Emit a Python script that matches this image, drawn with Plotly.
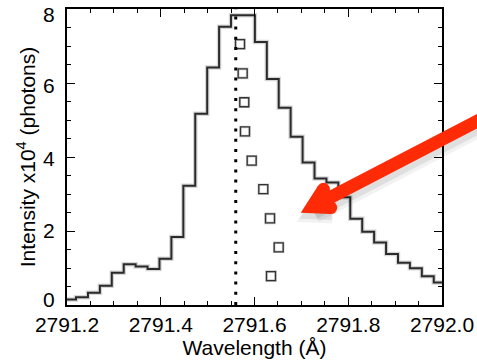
import numpy as np
import plotly.graph_objects as go

# Mg II k line profile (wavelength bin centres in Angstrom, intensity in 1e4 photons)
bin_centers = [2791.2065, 2791.2319, 2791.2574, 2791.2828, 2791.3082, 2791.3337,
               2791.3591, 2791.3846, 2791.4100, 2791.4354, 2791.4609, 2791.4863,
               2791.5118, 2791.5372, 2791.5626, 2791.5881, 2791.6135, 2791.6390,
               2791.6644, 2791.6898, 2791.7153, 2791.7407, 2791.7662, 2791.7916,
               2791.8170, 2791.8425, 2791.8679, 2791.8934, 2791.9188, 2791.9442,
               2791.9697, 2791.9951]
intensity = [0.15, 0.21, 0.33, 0.52, 0.87, 1.10, 1.04, 0.97, 1.25, 1.84, 3.22,
             5.17, 6.42, 7.52, 7.83, 7.83, 7.11, 6.11, 5.33, 4.55, 3.85, 3.42,
             3.31, 2.91, 2.33, 1.98, 1.69, 1.38, 1.14, 0.99, 0.78, 0.61]

# Line bisector points
bisector_wl = [2791.5691, 2791.5748, 2791.5782, 2791.5797, 2791.5940,
               2791.6188, 2791.6331, 2791.6516, 2791.6352]
bisector_level = [7.05, 6.26, 5.48, 4.69, 3.90, 3.13, 2.34, 1.56, 0.78]

# Rest wavelength of the line
rest_wavelength = 2791.56

x_ticks = [2791.2, 2791.4, 2791.6, 2791.8, 2792.0]
y_ticks = [0, 2, 4, 6, 8]
y_tick_text = ["0", "2", "4", "6", "8"]
# labels at the ends of the axis are nudged inside the frame (pixels, + = up)
y_label_nudge = [6, 1, -1, -2, -5]

FONT = "Liberation Sans, Arial, sans-serif"

# Build the histogram-style outline from bin edges
c = np.array(bin_centers)
half = np.median(np.diff(c)) / 2
step_x = np.append(c - half, c[-1] + half)
step_y = np.append(intensity, intensity[-1])

W, H = 477, 361
ML, MR, MT, MB = 67, 35, 9, 56
PW, PH = W - ML - MR, H - MT - MB

fig = go.Figure()

# soft halo under the outline
fig.add_trace(go.Scatter(x=step_x, y=step_y, mode="lines", line_shape="hv",
                         line=dict(color="rgba(0,0,0,0.16)", width=4.5),
                         hoverinfo="skip", showlegend=False))
fig.add_trace(go.Scatter(x=step_x, y=step_y, mode="lines", line_shape="hv",
                         line=dict(color="#2a2a2a", width=2),
                         showlegend=False))

fig.add_trace(go.Scatter(x=bisector_wl, y=bisector_level, mode="markers",
                         marker=dict(symbol="square-open", size=9,
                                     color="rgba(0,0,0,0.22)",
                                     line=dict(width=2.6, color="rgba(0,0,0,0.22)")),
                         hoverinfo="skip", showlegend=False))
fig.add_trace(go.Scatter(x=bisector_wl, y=bisector_level, mode="markers",
                         marker=dict(symbol="square-open", size=9, color="#333",
                                     line=dict(width=1.3, color="#333")),
                         showlegend=False))

# dotted marker of the rest wavelength
fig.add_shape(type="line", xref="x", yref="paper", x0=rest_wavelength,
              x1=rest_wavelength, y0=0, y1=1,
              line=dict(color="black", width=3, dash="3px,7.2px"))

# y tick labels
for v, t, nudge in zip(y_ticks, y_tick_text, y_label_nudge):
    fig.add_annotation(x=0, xref="paper", y=v, yref="y", text=t, showarrow=False,
                       xanchor="right", yanchor="middle", xshift=-10, yshift=nudge,
                       font=dict(family=FONT, size=21, color="black"))


# --- red pointer arrow (defined in pixel space of the page) ---
def px_to_paper(px, py):
    return (px - ML) / PW, (H - MB - py) / PH


def path_from(points):
    parts = []
    for i, (px, py) in enumerate(points):
        xp, yp = px_to_paper(px, py)
        parts.append(("M" if i == 0 else "L") + f"{xp:.5f},{yp:.5f}")
    return " ".join(parts)


def round_cap(px, py, r, color):
    x0, y0 = px_to_paper(px - r, py + r)
    x1, y1 = px_to_paper(px + r, py - r)
    fig.add_shape(type="circle", xref="paper", yref="paper", x0=x0, y0=y0,
                  x1=x1, y1=y1, fillcolor=color, line=dict(width=0),
                  layer="above")


red = "#ff2a06"
vertex = (312.3, 206.8)
shaft_end = (495.0, 111.9)
arm_up = (323.5, 189.3)
arm_low = (330.7, 207.6)
arrow_w = 13

for dx, dy, col, extra in [(2, 6, "rgba(0,0,0,0.05)", 7), (1.5, 4.5, "rgba(0,0,0,0.08)", 3)]:
    pts = [(p[0] + dx, p[1] + dy) for p in (arm_up, vertex, arm_low)]
    fig.add_shape(type="path", xref="paper", yref="paper", path=path_from(pts),
                  line=dict(color=col, width=arrow_w + extra), layer="above")
    pts = [(p[0] + dx, p[1] + dy) for p in (vertex, shaft_end)]
    fig.add_shape(type="path", xref="paper", yref="paper", path=path_from(pts),
                  line=dict(color=col, width=arrow_w + extra), layer="above")

fig.add_shape(type="path", xref="paper", yref="paper",
              path=path_from([vertex, shaft_end]),
              line=dict(color=red, width=arrow_w), layer="above")
fig.add_shape(type="path", xref="paper", yref="paper",
              path=path_from([arm_up, vertex, arm_low]),
              line=dict(color=red, width=arrow_w), layer="above")
round_cap(arm_up[0], arm_up[1], arrow_w / 2, red)
round_cap(arm_low[0], arm_low[1], arrow_w / 2, red)

axis_common = dict(showline=True, linecolor="black", linewidth=1.6, mirror="ticks",
                   ticks="inside", ticklen=8, tickwidth=1.3, tickcolor="black",
                   showgrid=False, zeroline=False, automargin=False,
                   tickfont=dict(family=FONT, size=21, color="black"))

fig.update_xaxes(range=[2791.2, 2792.0], tickvals=x_ticks, tickformat=".1f",
                 minor=dict(dtick=0.05, ticklen=4, tickwidth=1.3, ticks="inside",
                            tickcolor="black", showgrid=False),
                 title=dict(text="Wavelength (Å)", standoff=5,
                            font=dict(family=FONT, size=21, color="black")),
                 **axis_common)
fig.update_yaxes(range=[0, 8], tickvals=y_ticks, showticklabels=False,
                 minor=dict(dtick=0.5, ticklen=4, tickwidth=1.3, ticks="inside",
                            tickcolor="black", showgrid=False),
                 title=dict(text="Intensity x10<sup>4</sup> (photons)", standoff=24,
                            font=dict(family=FONT, size=21, color="black")),
                 **axis_common)

fig.update_layout(width=W, height=H, margin=dict(l=ML, r=MR, t=MT, b=MB),
                  paper_bgcolor="white", plot_bgcolor="white", showlegend=False)

fig.write_html("out.html")
